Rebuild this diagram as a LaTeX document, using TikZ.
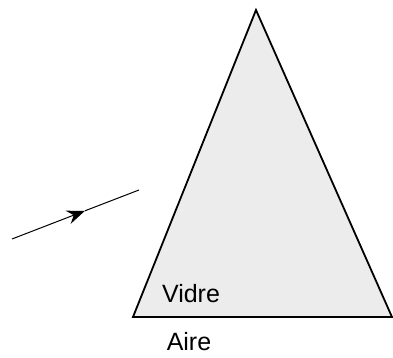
\documentclass[tikz,border=0pt]{standalone}
\usepackage{fontspec}
\setmainfont{Liberation Sans}
\usetikzlibrary{arrows.meta}
\definecolor{grisVidre}{RGB}{236,236,236}
\tikzset{
  prisma/.style={draw=black, line width=0.9pt, fill=grisVidre, line join=miter},
  raig/.style={-{Stealth[length=9pt, width=7pt, inset=3pt]}, line width=0.5pt},
  etiqueta/.style={font=\fontsize{12.5}{15}\selectfont, inner sep=0pt},
}
\begin{document}
\begin{tikzpicture}[x=0.5pt, y=-0.5pt]
  \useasboundingbox (0,0) rectangle (393,358);
  % prisma
  \coordinate (v) at (256,10);
  \coordinate (e) at (133,317);
  \coordinate (d) at (392,317);
  \filldraw[prisma] (v) -- (e) -- (d) -- cycle;
  \draw[line width=1.2pt] (e) -- (d);

  % raig incident
  \coordinate (r0) at (12,239);
  \coordinate (rm) at (85,210.8);
  \coordinate (r1) at (139,190);
  \draw[raig] (r0) -- (rm);
  \draw[line width=0.5pt] (rm) -- (r1);

  \node[etiqueta] (vidre) at (191,294) {Vidre};
  \node[etiqueta] (aire) at (189,342) {Aire};
\end{tikzpicture}
\end{document}
